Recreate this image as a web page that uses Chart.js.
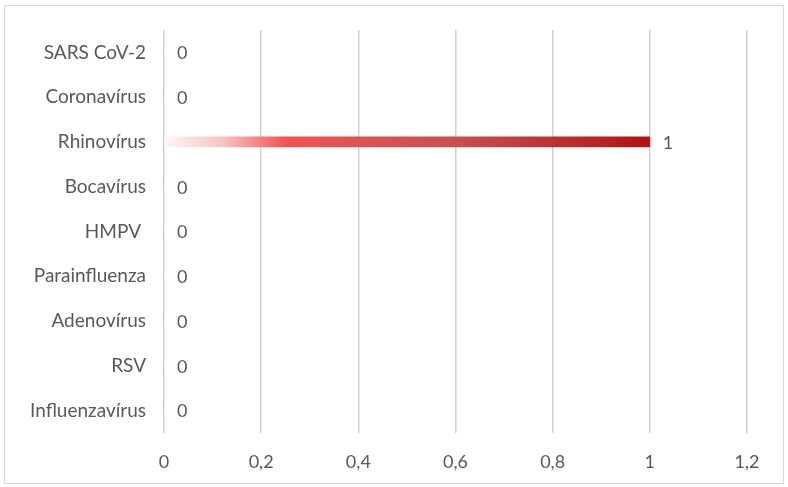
<!DOCTYPE html>
<html><head><meta charset="utf-8">
<script src="https://cdn.jsdelivr.net/npm/chart.js@4"></script>
<style>
html,body{margin:0;padding:0;background:#fff;}
#box{position:absolute;left:4px;top:5px;width:778px;height:477px;border:1px solid #d9d9d9;}
canvas{display:block;}
</style></head><body>
<div id="box"><canvas id="c" width="778" height="477"></canvas></div>
<script>
const categories = ["SARS CoV-2","Coronavírus","Rhinovírus","Bocavírus","HMPV ","Parainfluenza","Adenovírus","RSV","Influenzavírus"];
const values = [0,0,1,0,0,0,0,0,0];
const xTicks = [0,0.2,0.4,0.6,0.8,1,1.2];

const FONT = "Lato";
const TXT = "#595959";

const labelPlugin = {
  id:'vals',
  afterDatasetsDraw(chart){
    const ctx = chart.ctx;
    const meta = chart.getDatasetMeta(0);
    ctx.save();
    ctx.font = "18px " + FONT;
    ctx.fillStyle = TXT;
    ctx.textBaseline = "middle";
    ctx.textAlign = "left";
    meta.data.forEach((el,i)=>{
      ctx.fillText(String(values[i]).replace('.',','), el.x + 13, el.y + 1);
    });
    ctx.restore();
  }
};

function grad(ctx){
  const chart = ctx.chart;
  const a = chart.chartArea;
  if(!a) return '#c03030';
  const x0 = chart.scales.x.getPixelForValue(0);
  const x1 = chart.scales.x.getPixelForValue(1);
  const g = chart.ctx.createLinearGradient(x0,0,x1,0);
  g.addColorStop(0,'#fff6f6');
  g.addColorStop(0.12,'#f7c4c4');
  g.addColorStop(0.25,'#f05454');
  g.addColorStop(0.6,'#c65050');
  g.addColorStop(1,'#b01414');
  return g;
}

new Chart(document.getElementById('c'),{
  type:'bar',
  data:{labels:categories,datasets:[{data:values,backgroundColor:grad,barThickness:10,borderWidth:0}]},
  options:{
    indexAxis:'y',
    responsive:false,
    animation:false,
    layout:{padding:{left:0,right:36,top:24,bottom:0}},
    plugins:{legend:{display:false},tooltip:{enabled:false}},
    scales:{
      x:{min:0,max:1.2,
        afterBuildTicks(s){ s.ticks = xTicks.map(v=>({value:v})); },
        afterFit(s){ s.height = 50; s.paddingLeft = 0; s.paddingRight = 0; },
        grid:{color:'#d0d0d0',lineWidth:1.5,drawTicks:false},
        border:{display:false},
        ticks:{padding:18,color:TXT,font:{family:FONT,size:18},
          callback:(v)=>String(Math.round(v*10)/10).replace('.',',')}
      },
      y:{
        afterFit(s){ s.width = 159; s.paddingTop = 0; s.paddingBottom = 0; },
        grid:{display:false,drawTicks:false},
        border:{display:false},
        ticks:{padding:18,color:TXT,font:{family:FONT,size:19}}
      }
    }
  },
  plugins:[labelPlugin]
});
</script>
</body></html>
